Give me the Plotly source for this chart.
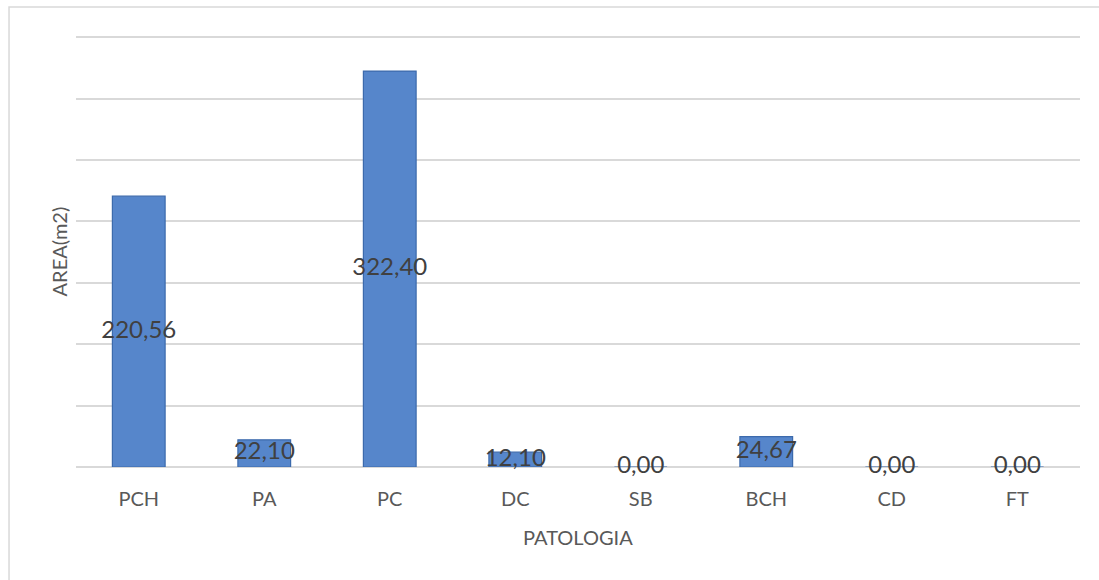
import plotly.graph_objects as go

# Área afectada por patología
categorias = ["PCH", "PA", "PC", "DC", "SB", "BCH", "CD", "FT"]
area_m2 = [220.56, 22.10, 322.40, 12.10, 0.00, 24.67, 0.00, 0.00]

etiquetas = [f"{v:.2f}".replace(".", ",") for v in area_m2]
pos_etiqueta = [v / 2 for v in area_m2]

FONT = "Lato, 'Open Sans', sans-serif"
GRID = "#d9d9d9"

fig = go.Figure()

fig.add_trace(go.Bar(
    x=categorias,
    y=area_m2,
    width=0.42,
    marker=dict(color="#5686CB", line=dict(color="#3C6AAC", width=1.2)),
    hoverinfo="x+y",
    showlegend=False,
))

# Valores centrados en cada barra
fig.add_trace(go.Scatter(
    x=categorias,
    y=pos_etiqueta,
    mode="text",
    text=etiquetas,
    textposition="middle center",
    textfont=dict(family=FONT, size=24, color="#404040"),
    cliponaxis=False,
    hoverinfo="skip",
    showlegend=False,
))

fig.update_layout(
    width=1099,
    height=580,
    margin=dict(l=76, r=19, t=36, b=113),
    paper_bgcolor="white",
    plot_bgcolor="white",
    font=dict(family=FONT, color="#595959"),
    xaxis=dict(
        showgrid=False,
        showline=False,
        ticks="",
        ticklabelstandoff=18,
        tickfont=dict(family=FONT, size=20, color="#595959"),
    ),
    yaxis=dict(
        range=[0, 351],
        tick0=0,
        dtick=50,
        showticklabels=False,
        showgrid=True,
        gridcolor=GRID,
        gridwidth=1.5,
        zeroline=True,
        zerolinecolor=GRID,
        zerolinewidth=1.5,
        showline=False,
        ticks="",
    ),
    annotations=[
        dict(text="AREA(m2)", x=-0.017, y=0.5, xref="paper", yref="paper",
             textangle=-90, showarrow=False, xanchor="center", yanchor="middle",
             font=dict(family=FONT, size=20, color="#595959")),
        dict(text="PATOLOGIA", x=0.5, y=(467 - 537) / 431, xref="paper", yref="paper",
             showarrow=False, xanchor="center", yanchor="middle",
             font=dict(family=FONT, size=20, color="#595959")),
    ],
    shapes=[
        dict(type="rect", xref="paper", yref="paper",
             x0=-0.0667, x1=1.05, y0=-0.4, y1=(467 - 7) / 431,
             line=dict(color=GRID, width=1.5), fillcolor="rgba(0,0,0,0)",
             layer="below"),
    ],
)

fig.write_html("out.html")
